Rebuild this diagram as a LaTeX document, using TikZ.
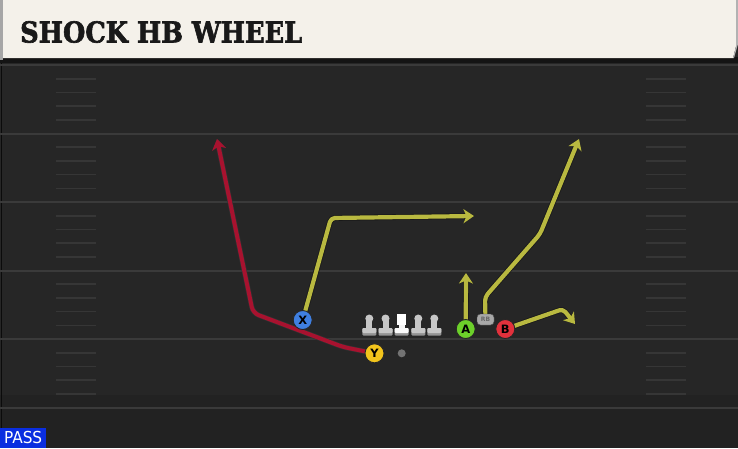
\documentclass[tikz,border=0pt]{standalone}
\usepackage{fontspec}
\usepackage{graphicx}
\usetikzlibrary{arrows.meta}
\newfontfamily\titlefont[BoldFeatures={FakeBold=2.2}]{DejaVu Serif}
\newfontfamily\labelfont{DejaVu Sans}
\newfontfamily\passfont{DejaVu Sans Condensed}
\definecolor{field}{HTML}{262626}
\definecolor{fieldlow}{HTML}{222222}
\definecolor{yardline}{HTML}{3A3A3A}
\definecolor{hashc}{HTML}{363636}
\definecolor{cream}{HTML}{F4F1EA}
\definecolor{routeY}{HTML}{B9B940}
\definecolor{routeR}{HTML}{A8122F}
\definecolor{pX}{HTML}{3F7FE0}
\definecolor{pY}{HTML}{F2C41C}
\definecolor{pA}{HTML}{6CD02A}
\definecolor{pB}{HTML}{E2313C}
\definecolor{lmgrey}{HTML}{C6C6C6}
\definecolor{passblue}{HTML}{0A2EE0}
\pgfdeclarelayer{fieldlayer}
\pgfdeclarelayer{routelayer}
\pgfsetlayers{fieldlayer,routelayer,main}
\tikzset{
  player/.style={circle, draw=black!85, line width=0.9pt, minimum size=19pt, inner sep=0pt,
    font=\labelfont\bfseries\fontsize{11.5}{11.5}\selectfont, text=black},
  rbbox/.style={draw=black!70, fill=lmgrey!85!black, rounded corners=3.5pt, minimum width=17pt,
    minimum height=11pt, inner sep=0pt, font=\labelfont\bfseries\fontsize{6}{6}\selectfont, text=black!60},
  yroute/.style={draw=routeY, line width=4.2pt, line join=round, rounded corners=4pt,
    preaction={draw=black!90, line width=5.8pt}, -{Stealth[length=10.5pt,width=14pt,inset=3pt]}},
  rroute/.style={draw=routeR, line width=4pt, line join=round, rounded corners=6pt,
    preaction={draw=black!80, line width=5.2pt}, -{Stealth[length=10.5pt,width=14pt,inset=3pt]}},
  yardstyle/.style={draw=yardline, line width=2pt},
  hashstyle/.style={draw=hashc, line width=1.6pt},
  lineman/.pic={
    \fill[lmgrey] (0,0) circle (4);
    \fill[lmgrey] (-3,0) rectangle (3,10);
    \fill[lmgrey!75!black, rounded corners=1pt] (-7,9.5) rectangle (7,17);
    \fill[lmgrey, rounded corners=1pt] (-7,9.5) rectangle (7,14.5);
  },
  centerman/.pic={
    \fill[white] (-4.5,-4.8) rectangle (4.5,6.5);
    \fill[white!85!lmgrey] (-3,6) rectangle (3,10);
    \fill[lmgrey!75!black, rounded corners=1pt] (-7,9.5) rectangle (7,17);
    \fill[white!90!lmgrey, rounded corners=1pt] (-7,9.5) rectangle (7,14.5);
  }
}
\begin{document}
\begin{tikzpicture}[x=1pt,y=-1pt]
\useasboundingbox (0,0) rectangle (738,448);
\begin{pgfonlayer}{fieldlayer}
  \fill[field] (0,0) rectangle (738,448);
  \fill[fieldlow] (0,395) rectangle (738,448);
  \draw[black!70!field, line width=1pt] (1.5,62) -- (1.5,448);
  \foreach \yy in {65,133.5,202,270.5,339,407.5}
    \draw[yardstyle] (0,\yy) -- (738,\yy);
  \foreach \yy in {65,133.5,202,270.5,339}
    \foreach \k in {1,2,3,4} {
      \draw[hashstyle] (56,{\yy+\k*13.7}) -- (96,{\yy+\k*13.7});
      \draw[hashstyle] (646,{\yy+\k*13.7}) -- (686,{\yy+\k*13.7});
    }
  % header
  \fill[black!92] (0,57) rectangle (738,63);
  \fill[gray!70] (0,0) rectangle (3,60);
  \fill[cream] (3,0) -- (736,0) -- (736,46) -- (733,58) -- (3,58) -- cycle;
  \fill[gray!60] (736,0) -- (738,0) -- (738,44) -- (734,58) -- (733,58) -- (736,46) -- cycle;
\end{pgfonlayer}

\node[anchor=base west, inner sep=0pt, text=black!90] (title) at (20,42.5)
  {\resizebox{282pt}{\height}{\titlefont\fontsize{28.8}{29}\selectfont\bfseries SHOCK HB WHEEL}};

\node[fill=passblue, anchor=south west, minimum width=46pt, minimum height=20pt, inner sep=0pt,
  text=white] (pass) at (0,448)
  {\resizebox{38pt}{\height}{\passfont\fontsize{16.5}{16.5}\selectfont PASS}};

% linemen
\pic at (369.3,318.5) {lineman};
\pic at (385.5,318.5) {lineman};
\pic at (401.7,318.5) {centerman};
\pic at (418.3,318.5) {lineman};
\pic at (434.3,318.5) {lineman};

\node[circle, fill=black!55, minimum size=8pt, inner sep=0pt] (ball) at (401.7,353.3) {};

\node[player, fill=pX] (X) at (302.7,320) {X};
\node[player, fill=pY] (Y) at (374.5,353.3) {Y};
\node[player, fill=pA] (A) at (465.7,329) {A};
\node[player, fill=pB] (B) at (505.3,329) {B};
\node[rbbox] (RB) at (485.5,319.5) {RB};

\coordinate (r1) at (343,347);
\coordinate (r2) at (253,313);
\coordinate (rT) at (217,139);
\coordinate (x1) at (331,218);
\coordinate (xT) at (474,216);
\coordinate (aT) at (466,273);
\coordinate (b1) at (485,297);
\coordinate (b2) at (540,234);
\coordinate (bT) at (579,139);
\coordinate (c1) at (563,309);
\coordinate (cT) at (575,324);

\begin{pgfonlayer}{routelayer}
  \draw[rroute] (Y.center) -- (r1) -- (r2) -- (rT);
  \draw[yroute] (X.center) -- (x1) -- (xT);
  \draw[yroute] (A.center) -- (aT);
  \draw[yroute] (RB.center) -- (b1) -- (b2) -- (bT);
  \draw[yroute] (B.center) -- (c1) -- (cT);
\end{pgfonlayer}
\end{tikzpicture}
\end{document}
